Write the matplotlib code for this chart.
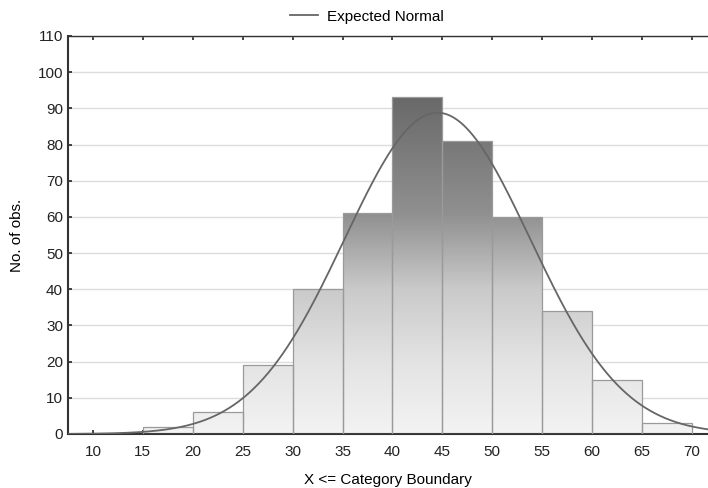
import numpy as np
import matplotlib.pyplot as plt
from matplotlib.colors import LinearSegmentedColormap

plt.rcParams['font.family'] = ['Liberation Sans', 'DejaVu Sans']

# histogram data (bins of width 5)
bin_left = [15, 20, 25, 30, 35, 40, 45, 50, 55, 60, 65]
counts = [2, 6, 19, 40, 61, 93, 81, 60, 34, 15, 3]
bin_width = 5
x_ticks = [10, 15, 20, 25, 30, 35, 40, 45, 50, 55, 60, 65, 70]
y_ticks = [0, 10, 20, 30, 40, 50, 60, 70, 80, 90, 100, 110]

# fitted normal
mu = 44.5
sigma = 9.3

fig = plt.figure(figsize=(7.08, 4.88), dpi=100)
ax = fig.add_axes([0.096, 0.1107, 0.904, 0.8156])

# shade depends on height: light near 0, dark near the top
cmap = LinearSegmentedColormap.from_list('g', [
    (0.0, '#f3f3f3'), (0.21, '#e3e3e3'), (0.42, '#cacaca'),
    (0.64, '#909090'), (0.85, '#787878'), (1.0, '#676767')])
grad = np.linspace(0, 1, 256).reshape(-1, 1)

for xl, c in zip(bin_left, counts):
    rect = plt.Rectangle((xl, 0), bin_width, c, facecolor='none',
                         edgecolor='#9a9a9a', lw=0.9, zorder=3)
    ax.add_patch(rect)
    im = ax.imshow(grad * c / 95.0, extent=(xl, xl + bin_width, 0, c),
                   origin='lower', aspect='auto', cmap=cmap, vmin=0, vmax=1,
                   zorder=2)
    im.set_clip_path(rect)

n = sum(counts)
xs = np.linspace(7.5, 72, 400)
ys = n * bin_width * np.exp(-0.5 * ((xs - mu) / sigma) ** 2) / (sigma * np.sqrt(2 * np.pi))
ax.plot(xs, ys, color='#666666', lw=1.3, zorder=4, label='Expected Normal')

ax.set_xlim(7.5, 71.6)
ax.set_ylim(0, 110)
ax.set_xticks(x_ticks)
ax.set_yticks(y_ticks)
ax.yaxis.grid(True, color='#dddddd', lw=1.0, zorder=0)
ax.set_axisbelow(True)
ax.tick_params(direction='in', length=3, width=1.2, labelsize=11,
               top=True, colors='#222222')
ax.tick_params(axis='x', pad=8)
ax.spines['left'].set_linewidth(1.5)
ax.spines['bottom'].set_linewidth(1.5)
ax.spines['top'].set_linewidth(1.0)
ax.spines['right'].set_visible(False)
for s in ax.spines.values():
    s.set_color('#333333')

ax.set_xlabel('X <= Category Boundary', fontsize=11, labelpad=10)
ax.set_ylabel('No. of obs.', fontsize=11, labelpad=10)

fig.legend(loc='upper center', bbox_to_anchor=(0.518, 1.008), frameon=False,
           fontsize=11, handlelength=1.8, handletextpad=0.6)

plt.savefig('out.png')
